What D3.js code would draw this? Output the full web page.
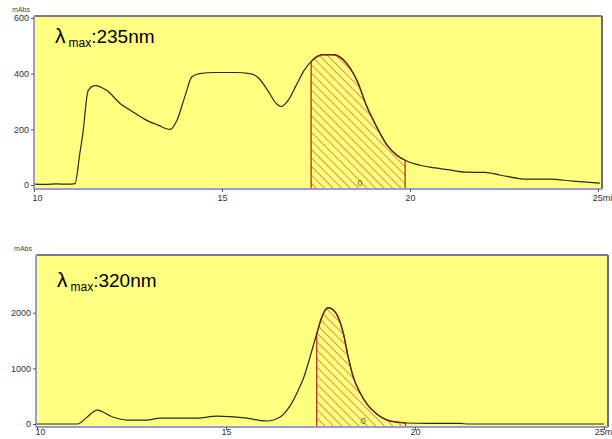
<!DOCTYPE html>
<html>
<head>
<meta charset="utf-8">
<script src="https://cdn.jsdelivr.net/npm/d3@7"></script>
<style>
  html, body { margin: 0; padding: 0; background: #ffffff; }
  svg { display: block; }
  .tick text { font-family: "Liberation Sans", Arial, sans-serif; font-size: 9px; fill: #333; }
  .lbl { font-family: "Liberation Sans", Arial, sans-serif; }
</style>
</head>
<body>
<svg id="chart" width="612" height="439"></svg>
<script>
// ---- data (time in min, absorbance in mAbs) ----
const topTime = [10, 10.3, 10.6, 10.9, 11.09, 11.22, 11.30, 11.44, 11.62, 11.94, 12.29, 12.6, 13.0, 13.3, 13.62, 13.80,
  14.02, 14.2, 14.41, 14.81, 15.35, 15.74, 15.96, 16.22, 16.44, 16.57, 16.76, 16.97, 17.18, 17.39, 17.69, 17.95,
  18.32, 18.59, 18.86, 19.12, 19.39, 19.65, 19.87, 20.27, 20.53, 21.0, 21.52, 22.0, 22.39, 23.11, 23.72, 24.33, 25.05];
const topValue = [3, 2, 4, 3, 5, 114, 186, 339, 357, 339, 293, 265, 232, 215, 200, 232,
  321, 389, 400, 404, 404, 400, 386, 339, 293, 282, 304, 357, 411, 446, 468, 468,
  436, 375, 279, 207, 143, 107, 89, 71, 64, 55, 46, 45, 36, 21, 21, 14, 7];

const botTime = [10, 10.5, 11.08, 11.3, 11.59, 12.0, 12.38, 12.9, 13.25, 14.23, 14.76, 15.5, 16.08, 16.43, 16.69, 16.96,
  17.04, 17.28, 17.41, 17.54, 17.7, 17.83, 17.96, 18.1, 18.23, 18.36, 18.54, 18.73, 18.99, 19.34, 19.79, 20.32, 21.2, 21.4, 25];
const botValue = [0, 0, 0, 110, 250, 125, 71, 71, 107, 107, 143, 110, 54, 125, 321, 679,
  804, 1339, 1643, 1929, 2089, 2054, 1929, 1643, 1214, 857, 571, 357, 179, 54, 18, 10, 10, 0, 0];

const topTicksY = [0, 200, 400, 600];
const botTicksY = [0, 1000, 2000];
const ticksX = [10, 15, 20, 25];
const titles = ["235nm", "320nm"];
const peakLabels = ["0", "0"];

const panels = [
  { time: topTime, value: topValue, ticksY: topTicksY, yMax: 607, title: titles[0], peak: peakLabels[0],
    hatch: [17.37, 19.87], left: 34, right: 602, top: 16, zeroY: 185, axisY: 189, xAt10: 34, xAt25: 598,
    titleX: 55, titleY: 43, lastTick: "25mi", lastDx: 4 },
  { time: botTime, value: botValue, ticksY: botTicksY, yMax: 3036, title: titles[1], peak: peakLabels[1],
    hatch: [17.4, 19.75], left: 36, right: 608, top: 255, zeroY: 424, axisY: 427, xAt10: 37, xAt25: 604,
    titleX: 57, titleY: 287, lastTick: "25m", lastDx: -1 }
];

const svg = d3.select("#chart");

// hatch pattern
const defs = svg.append("defs");
defs.append("pattern")
  .attr("id", "hatch")
  .attr("patternUnits", "userSpaceOnUse")
  .attr("width", 6).attr("height", 6)
  .attr("patternTransform", "rotate(-45)")
  .append("line")
  .attr("x1", 0).attr("y1", 0).attr("x2", 0).attr("y2", 6)
  .attr("stroke", "#cc4a1a").attr("stroke-width", 1.2);

panels.forEach((p, i) => {
  const g = svg.append("g");
  const x = d3.scaleLinear().domain([10, 25]).range([p.xAt10, p.xAt25]);
  const y = d3.scaleLinear().domain([0, p.yMax]).range([p.zeroY, p.top]);
  const data = p.time.map((t, k) => ({ t, v: p.value[k] }));

  // plot area
  g.append("rect")
    .attr("x", p.left).attr("y", p.top)
    .attr("width", p.right - p.left).attr("height", p.axisY - p.top)
    .attr("fill", "#ffff80");

  // value on the trace at time t (linear between read points)
  const interp = t => {
    const k = d3.bisectLeft(p.time, t);
    const a = data[Math.max(k - 1, 0)], b = data[Math.min(k, data.length - 1)];
    if (a.t === b.t) return a.v;
    return a.v + (b.v - a.v) * (t - a.t) / (b.t - a.t);
  };

  // hatched (integrated) area
  const inside = data.filter(d => d.t > p.hatch[0] && d.t < p.hatch[1]);
  const areaPts = [{ t: p.hatch[0], v: interp(p.hatch[0]) }, ...inside, { t: p.hatch[1], v: interp(p.hatch[1]) }];
  const area = d3.area().x(d => x(d.t)).y0(p.axisY - 1).y1(d => y(d.v)).curve(d3.curveMonotoneX);
  g.append("path").attr("d", area(areaPts)).attr("fill", "url(#hatch)");
  p.hatch.forEach(t => {
    g.append("line")
      .attr("x1", x(t)).attr("x2", x(t))
      .attr("y1", p.axisY).attr("y2", y(interp(t)))
      .attr("stroke", "#b82010").attr("stroke-width", 1.2);
  });

  // chromatogram trace
  const line = d3.line().x(d => x(d.t)).y(d => y(d.v)).curve(d3.curveMonotoneX);
  g.append("path").attr("d", line(data))
    .attr("fill", "none").attr("stroke", "#2a2a1a").attr("stroke-width", 1.2);
  const edge = d3.line().x(d => x(d.t)).y(d => y(d.v)).curve(d3.curveMonotoneX);
  g.append("path").attr("d", edge(areaPts)).attr("fill", "none")
    .attr("stroke", "#7a1a10").attr("stroke-width", 1.4).attr("stroke-opacity", 0.8);

  // peak number
  g.append("text").attr("class", "lbl")
    .attr("x", x((p.hatch[0] + p.hatch[1]) / 2) + 2).attr("y", p.axisY - 3)
    .attr("text-anchor", "middle").attr("font-size", 9).attr("fill", "#666633")
    .text(p.peak);

  // frame: top and right borders
  g.append("line").attr("x1", p.left).attr("x2", p.right).attr("y1", p.top).attr("y2", p.top)
    .attr("stroke", "#7a7a98").attr("stroke-width", 2);
  g.append("line").attr("x1", p.right).attr("x2", p.right).attr("y1", p.top).attr("y2", p.axisY)
    .attr("stroke", "#6a6a80").attr("stroke-width", 2);

  // y axis
  const yAxis = d3.axisLeft(y).tickValues(p.ticksY).tickSize(3).tickPadding(2).tickFormat(d3.format("d"));
  const ya = g.append("g").attr("transform", `translate(${p.left},0)`).call(yAxis);
  ya.select(".domain").attr("d", `M0,${p.top}V${p.axisY}`).attr("stroke", "#9a9ad8").attr("stroke-width", 2);
  ya.selectAll(".tick line").attr("stroke", "#555");

  // x axis
  const xAxis = d3.axisBottom(x).tickValues(ticksX).tickSize(3).tickPadding(i === 0 ? 3 : 0)
    .tickFormat(d => d === 25 ? p.lastTick : d);
  const xa = g.append("g").attr("transform", `translate(0,${p.axisY})`).call(xAxis);
  xa.select(".domain").attr("d", `M${p.left},0H${p.right}`).attr("stroke", "#9a9ad8").attr("stroke-width", 2);
  xa.selectAll(".tick line").attr("stroke", "#555");
  xa.selectAll(".tick text").attr("text-anchor", (d, k) => k === 0 ? "start" : "middle")
    .attr("dx", (d, k) => k === 0 ? -2 : (d === 25 ? p.lastDx : 0));
  if (i === 1) xa.selectAll(".tick text").attr("dy", "0.6em");

  // unit label
  g.append("text").attr("class", "lbl")
    .attr("x", p.left - 4).attr("y", p.top - 4)
    .attr("text-anchor", "end").attr("font-size", 7).attr("fill", "#444")
    .text("mAbs");

  // lambda max title
  const tt = g.append("text").attr("class", "lbl")
    .attr("x", p.titleX).attr("y", p.titleY)
    .attr("font-size", 19).attr("fill", "#000");
  tt.append("tspan").attr("font-size", 21).text("λ");
  tt.append("tspan").attr("font-size", 12).attr("dx", 3).attr("dy", 4).text("max");
  tt.append("tspan").attr("dy", -4).text(":" + p.title);
});
</script>
</body>
</html>
